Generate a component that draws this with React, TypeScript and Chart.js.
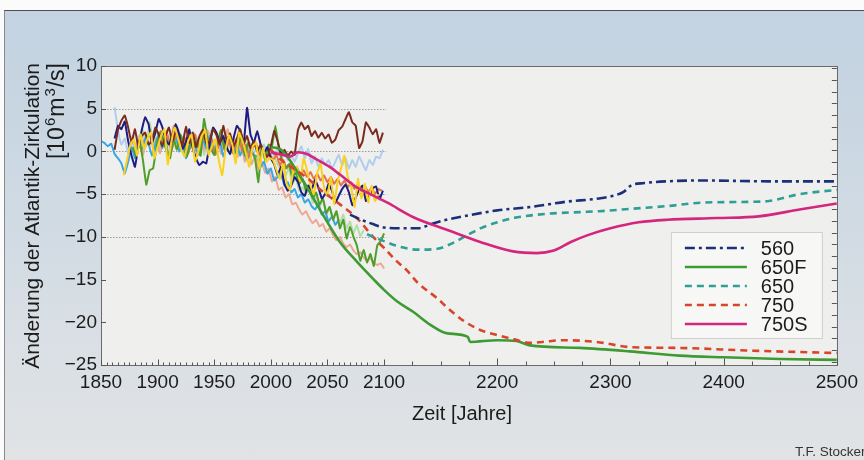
import React, { useEffect, useRef } from 'react';
import { Chart, registerables } from 'chart.js';

Chart.register(...registerables);

// ---------- axes ----------
const X_MIN = 1850;
const X_MAX = 2500;
const Y_MIN = -25;
const Y_MAX = 10;
const X_TICKS = [1850, 1900, 1950, 2000, 2050, 2100, 2200, 2300, 2400, 2500];
const Y_TICKS = [10, 5, 0, -5, -10, -15, -20, -25];
const GRID_VALUES = [5, 0, -5, -10];
const GRID_END_YEAR = 2102;

// ---------- annual (noisy) model runs, one value every NOISE_STEP years ----------
const NOISE_STEP = 3;

const SKY_START = 1850;
const SKY = [1.2, 1.0, 0.6, 0.9, -0.3, -0.8, -1.4, -2.6, -1.2, 0.5, -0.8, 1.0, 0.2, 1.5, 0.9, -0.5, 0.8, 2.0, 0.4, 1.2,
  -0.6, 0.8, 1.8, 0.0, 1.0, -0.8, 0.6, 1.6, 0.2, -0.4, 1.4, 0.4, 1.8, -0.2, 0.8, 1.2, -0.6, 0.6, 1.5, 0.0,
  0.8, -0.5, 0.6, -1.0, 0.2, -0.4, -0.6, -1.8, -1.2, -2.6, -2.0, -3.4, -3.0, -2.6, -4.0, -3.6, -4.8, -4.4, -5.4, -5.0,
  -6.0, -5.6, -6.4, -6.8, -6.2, -7.4, -7.0, -8.2, -7.6, -8.6, -8.0];

const PALE_START = 1862;
const PALE = [5.2, 2.5, 0.8, 1.5, -0.2, 1.0, 0.4, 1.8, 0.6, 2.0, 0.9, 1.6, 0.2, 1.4, 2.2, 0.8, 1.5, 0.4, 1.2, 2.0,
  0.6, 1.4, 0.2, 1.0, 1.8, 0.5, 1.2, 0.0, 1.6, 0.8, 1.4, 0.2, 1.0, 0.4, 1.8, 0.6, 1.2, 0.0, 0.8, 0.2,
  1.0, -0.2, 0.6, 0.0, 0.8, -0.4, 0.2, -0.6, 0.3, -0.8, -0.2, -1.0, -0.4, -1.2, -0.2, 0.6, -0.8, 0.3, -1.4, -0.6,
  -1.8, -0.8, -1.6, -1.0, -2.0, -1.2, -0.4, -1.6, -0.8, -2.0, -1.0, -1.8, -0.6, -1.4, -2.2, -1.0, -1.6, -0.6, -0.8, 0.2];

const NAVY_START = 1862;
const NAVY = [1.5, 3.0, 2.6, 3.5, 1.2, -0.5, -1.8, 0.6, 2.5, 4.0, 3.2, 1.0, 2.2, 3.8, 2.9, 1.5, 0.8, 1.9, 3.2, 2.0,
  0.3, 1.1, 2.6, 0.4, -0.8, -1.6, -1.2, -1.4, 0.9, 2.8, 2.2, 1.0, 1.8, 0.5, -0.3, 1.5, 3.0, 2.4, 0.8, 5.1,
  2.0, 1.0, 2.4, 0.8, -0.2, 0.5, -0.8, -1.5, -2.8, -1.8, -3.8, -4.6, -4.0, -3.0, -3.6, -4.8, -5.2, -4.0, -4.5, -3.3,
  -4.2, -5.5, -5.0, -3.8, -4.6, -6.0, -5.2, -4.4, -3.9, -4.8, -6.3, -5.4, -4.5, -4.0, -5.8, -5.2, -4.3, -4.1, -5.6, -4.6];

const BROWN_START = 1862;
const BROWN = [0.2, 2.5, 3.6, 4.2, 2.8, 1.0, 2.6, 0.5, 1.8, 2.2, 0.8, 1.2, 2.8, 2.0, 0.6, 1.8, 2.8, 1.2, 2.4, 1.5,
  0.8, 2.9, 1.0, 2.2, 0.5, 1.8, 2.5, 0.9, 1.2, 2.6, 1.9, 0.8, 3.0, 1.3, 2.1, 0.6, 1.5, 2.6, 0.9, 1.8,
  0.4, 1.2, 0.0, 0.8, -0.2, -0.6, 0.6, 2.4, 1.2, -0.3, 0.2, -0.5, 0.0, -0.4, 2.5, 3.4, 2.6, 3.0, 1.8, 2.4,
  1.6, 2.2, 1.5, 2.0, 1.0, 1.4, 2.5, 2.9, 3.8, 4.6, 3.4, 3.0, 0.4, 1.2, 3.4, 2.8, 2.0, 2.6, 1.0, 2.2];

const YELLOW_START = 1870;
const YELLOW = [-2.8, -1.0, 0.8, 1.4, -0.5, 2.0, 0.3, 1.5, 2.2, -0.8, 0.5, 1.8, 2.6, -1.5, 1.0, 2.8, 1.6, 0.2, -0.6, 1.2,
  2.0, -1.2, 0.0, 1.8, 2.5, -0.4, 0.6, 1.4, -1.0, -2.8, 0.2, 1.9, 0.8, -1.4, 2.2, 1.2, -0.2, -1.8, 0.6, 1.0,
  -2.0, 0.4, -1.2, -0.8, -1.0, -2.2, -3.2, -1.2, -3.8, -4.5, -2.0, -1.8, -3.5, -0.8, -2.2, -4.0, -5.0, -2.5, -1.5, -4.2,
  -5.2, -3.0, -6.2, -3.5, -2.0, -0.5, -3.0, -4.2, -6.5, -3.2, -5.5, -3.8, -6.0, -4.0, -5.8, -5.0];

const GREEN_START = 1878;
const GREEN = [0.5, -0.5, 1.2, -1.0, -3.9, -2.2, -2.0, 0.5, 2.2, 1.4, 0.0, -0.8, 1.6, 0.2, 2.0, 1.0, -0.6, 1.0, 0.5, 1.2,
  -0.5, 3.8, 1.5, 0.4, -0.4, 1.0, 2.5, 0.2, 1.6, 1.2, -0.2, 0.4, 2.0, -0.5, 1.0, 0.0, -0.8, -3.6, 0.6, -1.0,
  0.8, 0.6, 3.0, 0.5, -1.0, -2.0, -1.5, -3.0, -2.5, -3.8, -3.2, -4.6, -4.0, -5.5, -4.8, -6.2, -5.5, -7.2, -6.5, -8.0,
  -7.0, -9.0, -8.0, -10.2, -8.8, -10.0, -11.0, -12.8, -11.5, -13.0, -12.0, -13.4, -11.0, -10.5, -9.6];

const SALMON_START = 1875;
const SALMON = [0.5, 1.8, 0.2, 1.5, -0.4, 1.2, 2.0, 0.4, 1.6, -0.2, 1.0, 2.4, 0.8, 3.0, 1.2, 0.2, 1.8, 0.5, 2.2, 1.0,
  -0.5, 1.4, 0.2, 2.5, 1.0, 0.0, 1.5, -0.3, 1.2, 2.6, 0.8, 1.5, -0.6, 0.9, -1.2, 0.4, -1.5, -0.5, -2.0, -1.2,
  -2.5, -2.0, -3.5, -3.0, -4.5, -4.2, -5.4, -5.0, -6.2, -6.0, -6.8, -7.4, -7.0, -7.8, -8.4, -8.0, -8.8, -8.5, -9.4, -9.0,
  -9.8, -10.4, -10.0, -10.8, -11.2, -10.9, -11.6, -12.0, -11.8, -12.4, -12.8, -12.5, -13.0, -13.3, -13.1, -13.7];

const LGREEN_START = 1884;
const LGREEN = [1.0, 2.5, 0.6, 3.4, 1.2, 2.8, 0.4, 1.8, 0.0, 2.0, 0.8, 2.6, 1.0, -0.2, 1.5, 0.4, 2.2, 0.6, 1.8, -0.4,
  1.2, 2.4, 0.2, 1.6, 0.0, 2.0, 0.5, 1.4, -0.5, 1.0, 0.2, 1.6, -0.8, 0.6, 1.2, -0.4, 0.8, -0.6, 0.4, 0.2,
  -0.8, -1.8, -1.2, -2.8, -2.0, -3.8, -3.0, -4.6, -4.2, -5.0, -4.4, -6.0, -5.2, -6.6, -5.6, -7.4, -6.6, -7.8, -7.0, -8.4,
  -7.4, -9.0, -8.2, -9.6, -8.6, -9.9, -9.2];

const ORANGE_START = 1900;
const ORANGE = [1.0, 2.4, 0.6, 1.8, 0.0, 1.4, 2.6, 0.8, 1.6, -0.2, 1.2, 2.0, 0.4, 1.0, 2.2, 0.6, 1.4, -0.4, 0.8, 1.8,
  0.2, 1.2, -0.2, 0.8, 1.6, 0.0, 0.8, -0.6, 0.4, 1.0, -0.4, 0.2, -0.8, -0.2, -1.0, -0.4, -1.6, -1.0, -2.0, -1.4,
  -2.4, -1.8, -2.8, -2.2, -3.0, -2.4, -3.2, -2.6, -3.4, -2.8, -3.6, -3.0, -3.8, -3.2, -4.0, -3.4, -4.2, -3.6, -4.4, -3.8,
  -4.6, -4.0, -4.8, -4.2, -5.0, -4.4, -4.6];

// ---------- smoothed scenarios ----------
const LEGEND_LABELS = ['560', '650F', '650', '750', '750S'];

const S560_YEARS = [2070, 2080, 2090, 2100, 2115, 2130, 2142, 2155, 2170, 2200, 2230, 2260, 2290, 2305, 2312, 2318, 2330, 2350, 2380, 2440, 2500];
const S560 = [-7.4, -8.0, -8.5, -8.9, -9.0, -9.0, -8.5, -8.0, -7.6, -6.9, -6.5, -5.9, -5.5, -5.1, -4.7, -4.0, -3.7, -3.5, -3.4, -3.5, -3.5];

const S650F_YEARS = [2000, 2008, 2015, 2023, 2032, 2046, 2061, 2076, 2091, 2100, 2112, 2126, 2141, 2156, 2174, 2176, 2200, 2217, 2229, 2273, 2317, 2361, 2400, 2450, 2500];
const S650F = [0.5, 0.3, -0.7, -2.3, -4.2, -7.4, -10.6, -12.9, -15.0, -16.2, -17.6, -18.8, -20.3, -21.3, -21.7, -22.3, -22.1, -22.2, -22.7, -23.0, -23.4, -23.9, -24.1, -24.3, -24.4];

const S650_YEARS = [2085, 2100, 2115, 2130, 2147, 2161, 2175, 2185, 2200, 2214, 2244, 2273, 2290, 2320, 2350, 2380, 2423, 2440, 2467, 2500];
const S650 = [-9.7, -10.5, -11.2, -11.5, -11.4, -10.7, -9.7, -9.0, -8.3, -7.8, -7.3, -7.1, -7.0, -6.7, -6.4, -6.0, -5.9, -5.8, -5.0, -4.5];

const S750_YEARS = [2000, 2011, 2020, 2032, 2045, 2061, 2076, 2091, 2100, 2110, 2120, 2130, 2147, 2156, 2170, 2185, 2200, 2215, 2229, 2240, 2258, 2288, 2317, 2361, 2420, 2500];
const S750 = [0.2, -1.2, -2.0, -3.1, -4.6, -6.2, -7.8, -10.1, -11.3, -12.7, -13.9, -15.4, -17.2, -18.3, -19.8, -20.9, -21.5, -22.0, -22.4, -22.3, -22.1, -22.3, -22.9, -23.0, -23.3, -23.6];

const S750S_YEARS = [2000, 2010, 2017, 2024, 2032, 2040, 2053, 2061, 2076, 2091, 2103, 2126, 2156, 2185, 2214, 2235, 2250, 2265, 2280, 2300, 2325, 2350, 2394, 2431, 2467, 2500];
const S750S = [-0.1, -0.4, -0.6, -0.1, -0.3, -0.9, -1.9, -2.7, -4.2, -5.2, -6.0, -7.7, -9.2, -10.6, -11.7, -11.9, -11.6, -10.6, -9.8, -9.0, -8.3, -8.0, -7.8, -7.6, -6.8, -6.1];

// ---------- styles ----------
const FONT = '"Liberation Sans", Arial, Helvetica, sans-serif';
const TEXT = '#1c1c1c';
const PLOT_BG = '#eff0ee';

function stepPoints(start: number, vals: number[]) {
  return vals.map((v, i) => ({ x: start + i * NOISE_STEP, y: v }));
}
function pairPoints(years: number[], vals: number[]) {
  return years.map((x, i) => ({ x, y: vals[i] }));
}

function noisy(label: string, start: number, vals: number[], color: string, order: number) {
  return {
    label, data: stepPoints(start, vals), borderColor: color, borderWidth: 2,
    pointRadius: 0, tension: 0.1, order, fill: false,
  };
}
function scenario(label: string, years: number[], vals: number[], color: string, dash: number[], order: number) {
  return {
    label, data: pairPoints(years, vals), borderColor: color, borderWidth: 2.6, borderDash: dash,
    pointRadius: 0, cubicInterpolationMode: 'monotone', order, fill: false,
  };
}

function drawRotatedRuns(ctx: CanvasRenderingContext2D, cx: number, endY: number,
  runs: { text: string; size: number; dy?: number; gap?: number }[]) {
  ctx.save();
  ctx.translate(cx, endY);
  ctx.rotate(-Math.PI / 2);
  ctx.textAlign = 'left';
  ctx.textBaseline = 'middle';
  ctx.fillStyle = TEXT;
  let total = 0;
  const widths = runs.map((r) => {
    ctx.font = `${r.size}px ${FONT}`;
    const w = ctx.measureText(r.text).width + (r.gap || 0);
    total += w;
    return w;
  });
  let x = -total;
  runs.forEach((r, i) => {
    ctx.font = `${r.size}px ${FONT}`;
    ctx.fillText(r.text, x, r.dy || 0);
    x += widths[i];
  });
  ctx.restore();
}

const decorPlugin = {
  id: 'decor',
  beforeDraw(chart: any) {
    const { ctx, chartArea: a } = chart;
    ctx.save();
    ctx.fillStyle = PLOT_BG;
    ctx.fillRect(a.left, a.top, a.right - a.left, a.bottom - a.top);
    ctx.restore();
  },
  beforeDatasetsDraw(chart: any) {
    const { ctx, chartArea: a, scales } = chart;
    ctx.save();
    ctx.strokeStyle = '#9c9c9c';
    ctx.lineWidth = 1;
    ctx.setLineDash([1.5, 1.5]);
    const xEnd = scales.x.getPixelForValue(GRID_END_YEAR);
    GRID_VALUES.forEach((v) => {
      const py = Math.round(scales.y.getPixelForValue(v)) + 0.5;
      ctx.beginPath();
      ctx.moveTo(a.left, py);
      ctx.lineTo(xEnd, py);
      ctx.stroke();
    });
    ctx.restore();
  },
  afterDraw(chart: any) {
    const { ctx, chartArea: a, scales } = chart;
    const sx = scales.x;
    const sy = scales.y;
    ctx.save();
    // frame
    ctx.strokeStyle = '#6a6a6a';
    ctx.lineWidth = 1;
    ctx.strokeRect(Math.round(a.left) + 0.5, Math.round(a.top) + 0.5, Math.round(a.right - a.left), Math.round(a.bottom - a.top));
    // bottom ticks (inward)
    ctx.strokeStyle = '#555';
    const bottom = Math.round(a.bottom) + 0.5;
    const tickAt = (yr: number, len: number) => {
      const px = Math.round(sx.getPixelForValue(yr)) + 0.5;
      ctx.beginPath();
      ctx.moveTo(px, bottom);
      ctx.lineTo(px, bottom - len);
      ctx.stroke();
    };
    for (let yr = X_MIN; yr <= 2100; yr += 5) tickAt(yr, X_TICKS.includes(yr) ? 6 : 3);
    for (let yr = 2125; yr <= X_MAX; yr += 25) tickAt(yr, X_TICKS.includes(yr) ? 7 : 4);
    // left ticks
    Y_TICKS.forEach((v) => {
      const py = Math.round(sy.getPixelForValue(v)) + 0.5;
      ctx.beginPath();
      ctx.moveTo(a.left, py);
      ctx.lineTo(a.left + 5, py);
      ctx.stroke();
    });
    // right ticks
    for (let v = -15 - 1.375 * 7; v <= Y_MAX; v += 1.375) {
      const py = Math.round(sy.getPixelForValue(v)) + 0.5;
      ctx.beginPath();
      ctx.moveTo(a.right, py);
      ctx.lineTo(a.right - 5, py);
      ctx.stroke();
    }
    ctx.restore();

    // legend
    const bx = a.right - 166;
    const by = a.bottom - 133;
    const bw = 151;
    const bh = 106;
    ctx.save();
    ctx.fillStyle = '#f7f7f5';
    ctx.fillRect(bx, by, bw, bh);
    ctx.strokeStyle = '#cfcfcf';
    ctx.lineWidth = 1;
    ctx.strokeRect(bx + 0.5, by + 0.5, bw, bh);
    LEGEND_LABELS.forEach((lab, i) => {
      const ds = chart.data.datasets.find((d: any) => d.label === lab);
      const ry = by + 16 + i * 19;
      ctx.strokeStyle = ds.borderColor;
      ctx.lineWidth = 2.6;
      ctx.setLineDash(ds.borderDash || []);
      ctx.beginPath();
      ctx.moveTo(bx + 14, ry);
      ctx.lineTo(bx + 76, ry);
      ctx.stroke();
      ctx.setLineDash([]);
      ctx.fillStyle = TEXT;
      ctx.font = `20px ${FONT}`;
      ctx.textAlign = 'left';
      ctx.textBaseline = 'middle';
      ctx.fillText(lab, bx + 90, ry + 1);
    });
    ctx.restore();

    // titles
    drawRotatedRuns(ctx, 33, 63, [{ text: 'Änderung der Atlantik-Zirkulation', size: 21 }]);
    drawRotatedRuns(ctx, 58, 63, [
      { text: '[10', size: 23, gap: 1 },
      { text: '6', size: 15, dy: -7, gap: 1 },
      { text: 'm', size: 23, gap: 1 },
      { text: '3', size: 15, dy: -7, gap: 1 },
      { text: '/s]', size: 23 },
    ]);
    ctx.save();
    ctx.fillStyle = TEXT;
    ctx.font = `20px ${FONT}`;
    ctx.textAlign = 'center';
    ctx.textBaseline = 'middle';
    ctx.fillText('Zeit [Jahre]', 462, 414);
    ctx.font = `13.5px ${FONT}`;
    ctx.textAlign = 'left';
    ctx.fillStyle = '#333';
    ctx.fillText('T.F. Stocker', 795, 452);
    ctx.restore();
  },
};

export default function App() {
  const ref = useRef<HTMLCanvasElement | null>(null);
  useEffect(() => {
    const canvas = ref.current;
    if (!canvas) return;
    const datasets: any[] = [
      scenario('750S', S750S_YEARS, S750S, '#d4267c', [], 0),
      scenario('560', S560_YEARS, S560, '#1d2f78', [10, 4, 3, 4], 1),
      scenario('650', S650_YEARS, S650, '#2f9f96', [7, 5], 2),
      scenario('750', S750_YEARS, S750, '#d8452b', [7, 5], 3),
      scenario('650F', S650F_YEARS, S650F, '#3f9a34', [], 4),
      noisy('yellow', YELLOW_START, YELLOW, '#f8d21e', 5),
      noisy('brown', BROWN_START, BROWN, '#7a2b1e', 6),
      noisy('navy', NAVY_START, NAVY, '#1e1c82', 7),
      noisy('green', GREEN_START, GREEN, '#4f9e2c', 8),
      noisy('orange', ORANGE_START, ORANGE, '#e4724a', 9),
      noisy('sky', SKY_START, SKY, '#38a6e2', 10),
      noisy('salmon', SALMON_START, SALMON, '#eea791', 11),
      noisy('lightgreen', LGREEN_START, LGREEN, '#b7dbab', 12),
      noisy('paleblue', PALE_START, PALE, '#b2ccee', 13),
    ];
    const chart = new Chart(canvas, {
      type: 'line',
      data: { datasets },
      options: {
        animation: false,
        responsive: false,
        maintainAspectRatio: false,
        layout: { padding: { top: 66, right: 26, left: 0, bottom: 0 } },
        plugins: { legend: { display: false }, tooltip: { enabled: false } },
        elements: { point: { radius: 0 } },
        scales: {
          x: {
            type: 'linear',
            min: X_MIN,
            max: X_MAX,
            grid: { display: false, drawTicks: false },
            border: { display: false },
            afterBuildTicks: (axis: any) => { axis.ticks = X_TICKS.map((v) => ({ value: v })); },
            afterFit: (scale: any) => { scale.height = 95; },
            ticks: {
              autoSkip: false, maxRotation: 0, padding: 6, color: TEXT,
              font: { family: FONT, size: 19 },
              callback: (v: any) => String(v),
            },
          },
          y: {
            type: 'linear',
            min: Y_MIN,
            max: Y_MAX,
            grid: { display: false, drawTicks: false },
            border: { display: false },
            afterBuildTicks: (axis: any) => { axis.ticks = Y_TICKS.map((v) => ({ value: v })); },
            afterFit: (scale: any) => { scale.width = 101; },
            ticks: {
              padding: 4, color: TEXT,
              font: { family: FONT, size: 19 },
              callback: (v: any) => (v < 0 ? '\u2212' + Math.abs(v) : String(v)),
            },
          },
        },
      },
      plugins: [decorPlugin],
    } as any);
    return () => chart.destroy();
  }, []);

  return (
    <div style={{ position: 'fixed', left: 0, top: 0, width: 864, height: 460, background: '#fbfbfb', overflow: 'hidden' }}>
      <div
        style={{
          position: 'absolute', left: 4, top: 10, right: 0, bottom: 0,
          background: 'linear-gradient(180deg, #c3d3e1 0%, #c9d6e2 25%, #d5dde4 60%, #e1e3e5 100%)',
          borderTop: '1px solid #4e4e4e', borderLeft: '1px solid #8a8a8a',
        }}
      />
      <canvas ref={ref} width={864} height={460} style={{ position: 'absolute', left: 0, top: 0, width: 864, height: 460 }} />
    </div>
  );
}
